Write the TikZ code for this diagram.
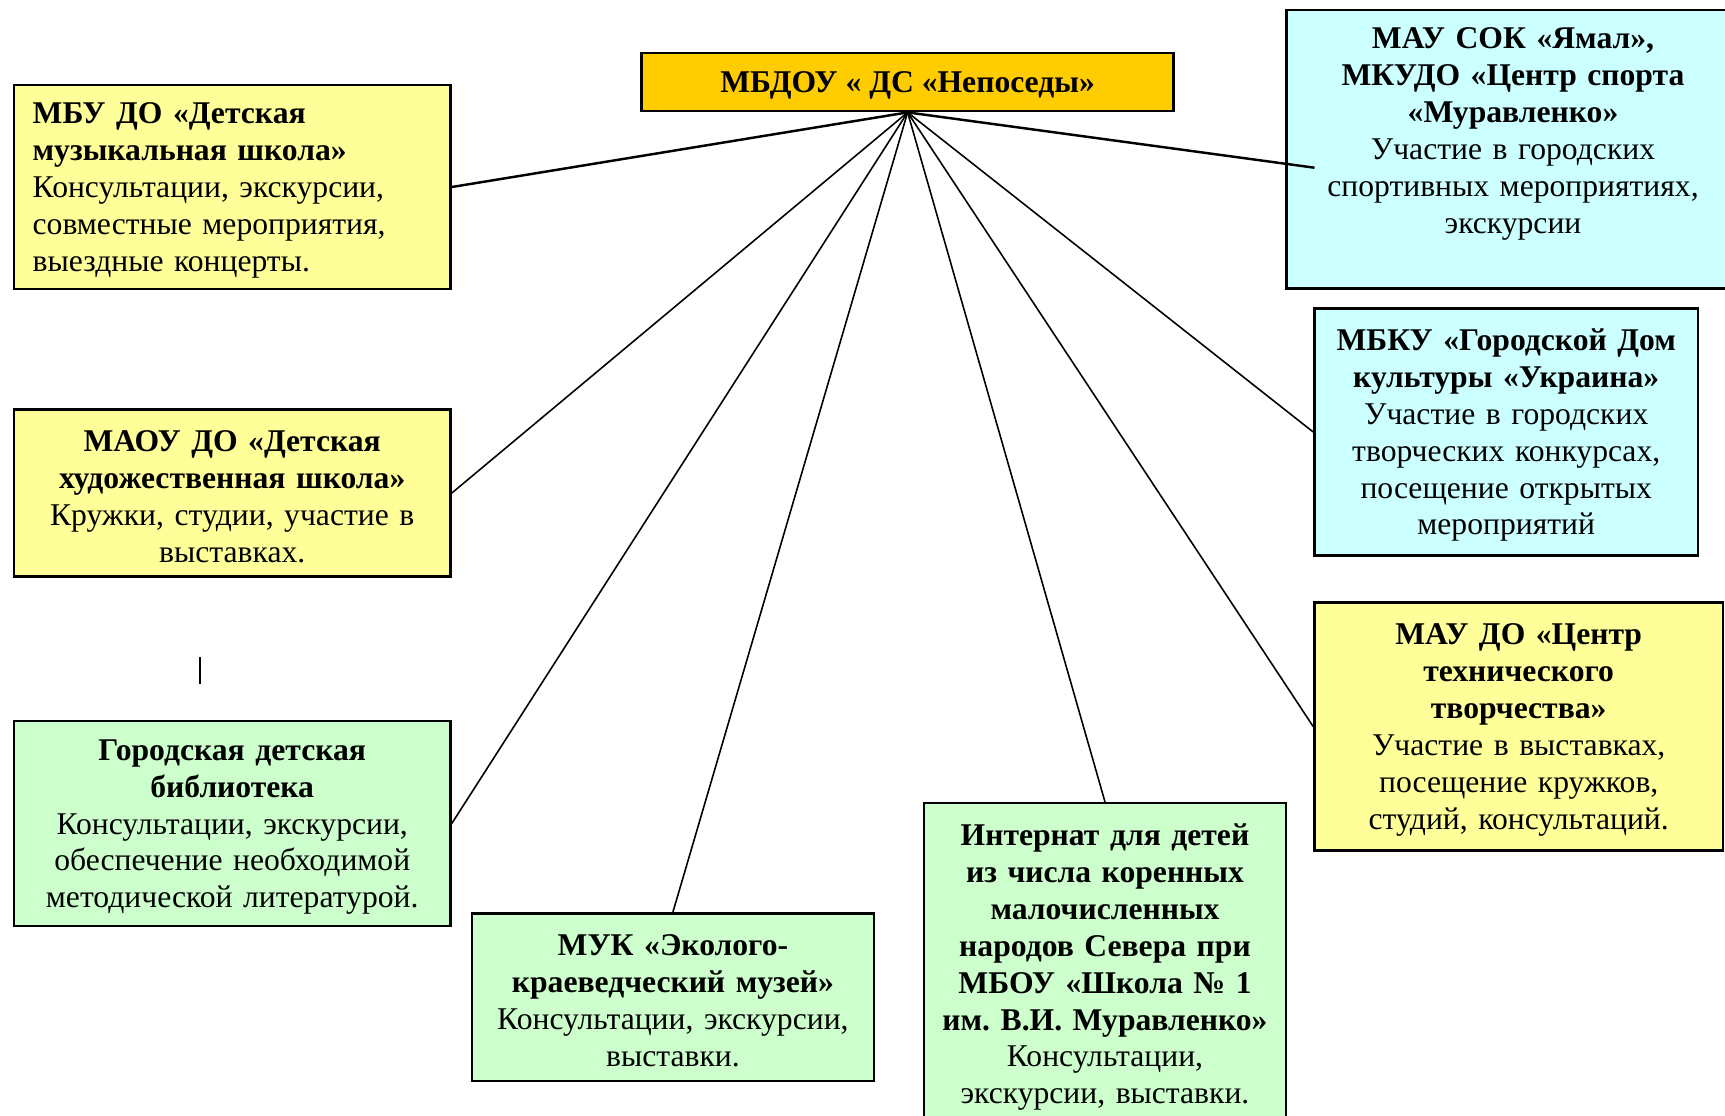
\documentclass[tikz,border=0pt]{standalone}
\usepackage{fontspec}
\setmainfont{Liberation Serif}
\frenchspacing
\definecolor{headorange}{RGB}{255,204,0}
\definecolor{paleyellow}{RGB}{255,255,153}
\definecolor{palecyan}{RGB}{204,255,255}
\definecolor{palegreen}{RGB}{204,255,204}
\newcommand{\partnerfont}{\fontsize{9pt}{10.5pt}\selectfont}
\newcommand{\topstrut}{\rule{0pt}{8pt}}
\tikzset{
    % Central node style
    headbox/.style={
        rectangle, draw=black, line width=0.7pt, fill=headorange,
        minimum width=53.2mm, minimum height=5.74mm,
        font=\partnerfont\bfseries, execute at begin node=\topstrut
    },
    % Partner box styles
    partnerbox/.style={
        rectangle, draw=black, line width=0.7pt,
        align=center, inner sep=0pt, font=\partnerfont,
        execute at begin node=\topstrut
    },
    yellowbox/.style={partnerbox, fill=paleyellow},
    cyanbox/.style={partnerbox, fill=palecyan},
    greenbox/.style={partnerbox, fill=palegreen},
    % Free text inside a box
    boxtext/.style={align=center, inner sep=0pt, font=\partnerfont,
        execute at begin node=\topstrut},
    % Connector lines
    link/.style={draw=black, line width=0.45pt},
    heavylink/.style={link, line width=0.7pt}
}

\begin{document}
\begin{tikzpicture}[x=0.1mm, y=-0.1mm]
\useasboundingbox (0,0) rectangle (1725,1115);

\node[headbox] (dou) at (907.6,82) {МБДОУ « ДС «Непоседы»};

% Left column
\node[yellowbox, minimum width=43.68mm, minimum height=20.4mm,
      text width=39.9mm, align=left] (music) at (232.2,187)
    {\textbf{МБУ ДО «Детская}\\ \textbf{музыкальная школа»}\\
     Консультации, экскурсии,\\ совместные мероприятия,\\ выездные концерты.};
\node[yellowbox, minimum width=43.68mm, minimum height=16.68mm,
      text width=42mm] (art) at (232.2,493)
    {\textbf{МАОУ ДО «Детская}\\ \textbf{художественная школа»}\\
     Кружки, студии, участие в\\ выставках.};
\draw[link] (200,657) -- (200,684);
\node[greenbox, minimum width=43.68mm, minimum height=20.47mm,
      text width=42mm] (library) at (232.2,823.4)
    {\textbf{Городская детская}\\ \textbf{библиотека}\\
     Консультации, экскурсии,\\ обеспечение необходимой\\ методической литературой.};

% Bottom row
\node[greenbox, minimum width=40.18mm, minimum height=16.77mm,
      text width=38.5mm] (museum) at (672.9,997.2)
    {\textbf{МУК «Эколого-}\\ \textbf{краеведческий музей»}\\
     Консультации, экскурсии,\\ выставки.};
\node[greenbox, minimum width=36.25mm, minimum height=32.17mm,
      text width=35mm] (internat) at (1105,964)
    {\textbf{Интернат для детей}\\ \textbf{из числа коренных}\\ \textbf{малочисленных}\\
     \textbf{народов Севера при}\\ \textbf{МБОУ «Школа № 1}\\ \textbf{им. В.И. Муравленко»}\\
     Консультации,\\ экскурсии, выставки.};

% Right column
\node[cyanbox, minimum width=45.26mm, minimum height=27.87mm] (sport) at (1513,149.3) {};
\node[boxtext, text width=44mm] (sporttext) at (1513,130.5)
    {\textbf{МАУ СОК «Ямал»,}\\ \textbf{МКУДО «Центр спорта}\\ \textbf{«Муравленко»}\\
     Участие в городских\\ спортивных мероприятиях,\\ экскурсии};
\node[cyanbox, minimum width=38.35mm, minimum height=24.71mm,
      text width=37mm] (culture) at (1506.2,432)
    {\textbf{МБКУ «Городской Дом}\\ \textbf{культуры «Украина»}\\
     Участие в городских\\ творческих конкурсах,\\ посещение открытых\\ мероприятий};
\node[yellowbox, minimum width=40.86mm, minimum height=24.79mm,
      text width=39.5mm] (tech) at (1518.7,726.5)
    {\textbf{МАУ ДО «Центр}\\ \textbf{технического}\\ \textbf{творчества»}\\
     Участие в выставках,\\ посещение кружков,\\ студий, консультаций.};

% Connectors
\coordinate (sportend) at ([xshift=2.9mm, yshift=-1.84mm]sport.west);
\draw[heavylink] (dou.south) -- (music.east);
\draw[link] (dou.south) -- (art.east);
\draw[link] (dou.south) -- (library.east);
\draw[link] (dou.south) -- (museum.north);
\draw[link] (dou.south) -- (internat.north);
\draw[link] (dou.south) -- (tech.west);
\draw[link] (dou.south) -- (culture.west);
\draw[heavylink] (dou.south) -- (sportend);

\end{tikzpicture}
\end{document}
